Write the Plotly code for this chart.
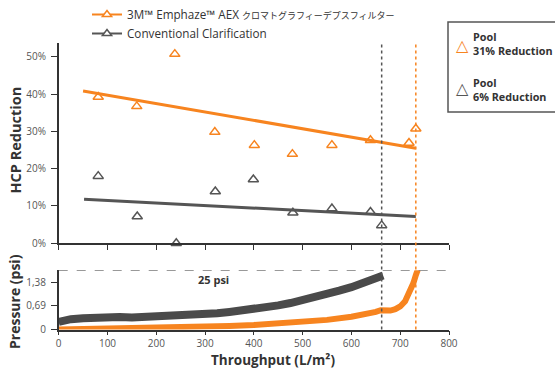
import plotly.graph_objects as go

# ---------------- data ----------------
# HCP reduction points (throughput L/m², fraction)
emph_x = [81, 160, 238, 320, 401, 479, 560, 639, 718, 732]
emph_y = [0.392, 0.367, 0.507, 0.298, 0.263, 0.239, 0.263, 0.276, 0.269, 0.307]
conv_x = [81, 161, 241, 321, 399, 480, 560, 639, 662]
conv_y = [0.180, 0.072, 0.000, 0.139, 0.171, 0.082, 0.093, 0.084, 0.048]

# trend lines (end points)
emph_trend_x = [50, 732]
emph_trend_y = [0.408, 0.255]
conv_trend_x = [52, 732]
conv_trend_y = [0.118, 0.072]

# pressure curves (bar, labelled in psi)
conv_p_x = [0, 10, 25, 50, 75, 100, 125, 150, 175, 200, 225, 250, 275, 300, 325, 350,
            375, 400, 425, 450, 475, 500, 525, 550, 575, 600, 625, 650, 665]
conv_p_y = [0.22, 0.27, 0.30, 0.33, 0.35, 0.36, 0.36, 0.35, 0.36, 0.37, 0.38, 0.40, 0.42,
            0.44, 0.47, 0.51, 0.55, 0.59, 0.64, 0.70, 0.77, 0.85, 0.93, 1.03, 1.13, 1.23,
            1.34, 1.45, 1.57]
emph_p_x = [0, 50, 100, 150, 200, 250, 300, 350, 400, 450, 500, 550, 600, 630, 650, 660,
            670, 680, 690, 700, 710, 720, 727, 732, 736]
emph_p_y = [0.00, 0.01, 0.02, 0.03, 0.04, 0.06, 0.08, 0.10, 0.13, 0.17, 0.21, 0.28, 0.37,
            0.44, 0.51, 0.56, 0.55, 0.55, 0.59, 0.67, 0.82, 1.08, 1.35, 1.58, 1.74]

pressure_limit = 1.7237   # 25 psi in bar
end_conv = 662
end_emph = 732

y2_tickvals = [0, 0.69, 1.38]
y2_ticktext = ["0", "0,69", "1,38"]
x_tickvals = [0, 100, 200, 300, 400, 500, 600, 700, 800]

legend_names = ["3M™ Emphaze™ AEX <span style='font-size:9px'>クロマトグラフィーデプスフィルター</span>",
                "Conventional Clarification"]

# ---------------- style ----------------
ORANGE = "#F7841F"
GRAY = "#555555"
BAND_GRAY = "#4A4A4A"
TXT = "#333333"
TICK = "#555555"
FONT = "Open Sans, Noto Sans CJK JP, sans-serif"
W, H = 555, 371

fig = go.Figure()

# top: scatter points
fig.add_trace(go.Scatter(x=emph_x, y=emph_y, mode="markers", showlegend=False,
                         marker=dict(symbol="triangle-up-open", size=9, color=ORANGE,
                                     line=dict(width=1.5, color=ORANGE)),
                         cliponaxis=False, xaxis="x", yaxis="y"))
fig.add_trace(go.Scatter(x=conv_x, y=conv_y, mode="markers", showlegend=False,
                         marker=dict(symbol="triangle-up-open", size=9, color=GRAY,
                                     line=dict(width=1.5, color=GRAY)),
                         cliponaxis=False, xaxis="x", yaxis="y"))
fig.add_trace(go.Scatter(x=emph_trend_x, y=emph_trend_y, mode="lines", showlegend=False,
                         line=dict(color=ORANGE, width=3), xaxis="x", yaxis="y"))
fig.add_trace(go.Scatter(x=conv_trend_x, y=conv_trend_y, mode="lines", showlegend=False,
                         line=dict(color=GRAY, width=3), xaxis="x", yaxis="y"))

# legend entries
fig.add_trace(go.Scatter(x=[None], y=[None], mode="lines+markers", name=legend_names[0],
                         line=dict(color=ORANGE, width=2),
                         marker=dict(symbol="triangle-up", size=8, color="white",
                                     line=dict(width=1.5, color=ORANGE)),
                         xaxis="x", yaxis="y"))
fig.add_trace(go.Scatter(x=[None], y=[None], mode="lines+markers", name=legend_names[1],
                         line=dict(color=GRAY, width=2),
                         marker=dict(symbol="triangle-up", size=8, color="white",
                                     line=dict(width=1.5, color=GRAY)),
                         xaxis="x", yaxis="y"))

# bottom: pressure curves
fig.add_trace(go.Scatter(x=conv_p_x, y=conv_p_y, mode="lines", showlegend=False,
                         line=dict(color=BAND_GRAY, width=8), cliponaxis=False,
                         xaxis="x2", yaxis="y2"))
fig.add_trace(go.Scatter(x=emph_p_x, y=emph_p_y, mode="lines", showlegend=False,
                         line=dict(color=ORANGE, width=6), cliponaxis=False,
                         xaxis="x2", yaxis="y2"))

# ---------------- layout ----------------
xl, xr = 58.7 / W, 449 / W
top_dom = [1 - 243.3 / H, 1 - 42.7 / H]
bot_dom = [1 - 329.5 / H, 1 - 270.2 / H]

axis_common = dict(showgrid=False, zeroline=False, showline=True, linecolor=TXT,
                   linewidth=1.5, ticks="outside", tickcolor=TXT, tickwidth=1.2,
                   automargin=False,
                   tickfont=dict(family=FONT, size=10, color=TICK))

fig.update_layout(
    width=W, height=H, autosize=False,
    margin=dict(l=0, r=0, t=0, b=0, pad=0, autoexpand=False),
    paper_bgcolor="white", plot_bgcolor="white",
    font=dict(family=FONT, color=TXT),
    xaxis=dict(domain=[xl, xr], range=[0, 800], tickvals=x_tickvals,
               showticklabels=False, ticklen=5, anchor="y", **axis_common),
    yaxis=dict(domain=top_dom, range=[0, 0.5376], dtick=0.1, tickformat=".0%",
               ticklen=6, ticklabelstandoff=3, anchor="x", **axis_common),
    xaxis2=dict(domain=[xl, xr], range=[0, 800], tickvals=x_tickvals, ticklen=4,
                anchor="y2", **axis_common),
    yaxis2=dict(domain=bot_dom, range=[0, pressure_limit], tickvals=y2_tickvals,
                ticktext=y2_ticktext, ticklen=6, ticklabelstandoff=3, anchor="x2",
                **axis_common),
    legend=dict(x=87 / W, y=1, xanchor="left", yanchor="top",
                font=dict(family=FONT, size=11.7, color=TXT), bgcolor="rgba(0,0,0,0)",
                tracegroupgap=0),
)

# vertical dotted end-of-run lines across both panels
for xv, col in [(end_conv, GRAY), (end_emph, ORANGE)]:
    fig.add_shape(type="line", xref="x", yref="paper", x0=xv, x1=xv,
                  y0=bot_dom[0], y1=top_dom[1], line=dict(color=col, width=1.5, dash="dot"))

# 25 psi dashed line
fig.add_shape(type="line", xref="x2", yref="y2", x0=0, x1=800, y0=pressure_limit,
              y1=pressure_limit, line=dict(color="#777777", width=1.5, dash="dash"))

# info box
fig.add_shape(type="rect", xref="paper", yref="paper", x0=448 / W, x1=1.02,
              y0=1 - 112 / H, y1=1 - 22 / H, line=dict(color=GRAY, width=1.5))

ann = []
ann.append(dict(text="<b>25 psi</b>", x=318, y=1.46, xref="x2", yref="y2", showarrow=False,
                font=dict(family=FONT, size=11, color=TXT), xanchor="center"))
for txt, yc in [("<b>Pool<br>31% Reduction</b>", 43),
                ("<b>Pool<br>6% Reduction</b>", 89.5)]:
    ann.append(dict(text=txt, x=471 / W, y=1 - yc / H, xref="paper", yref="paper",
                    showarrow=False, align="left", xanchor="left", yanchor="middle",
                    font=dict(family=FONT, size=10.8, color=TXT)))
for yc, col in [(45.7, ORANGE), (88, GRAY)]:
    ann.append(dict(text="△", x=462 / W, y=1 - yc / H, xref="paper", yref="paper",
                    showarrow=False, xanchor="center", yanchor="middle",
                    font=dict(family="DejaVu Sans", size=16, color=col)))
ann.append(dict(text="<b>HCP Reduction</b>", x=14.5 / W, y=1 - 140 / H, xref="paper",
                yref="paper", showarrow=False, textangle=-90, xanchor="center",
                yanchor="middle", font=dict(family=FONT, size=14.5, color=TXT)))
ann.append(dict(text="<b>Pressure (psi)</b>", x=14.5 / W, y=1 - 301.5 / H, xref="paper",
                yref="paper", showarrow=False, textangle=-90, xanchor="center",
                yanchor="middle", font=dict(family=FONT, size=14, color=TXT)))
ann.append(dict(text="<b>Throughput (L/m²)</b>", x=272.5 / W, y=1 - 360 / H, xref="paper",
                yref="paper", showarrow=False, xanchor="center", yanchor="middle",
                font=dict(family=FONT, size=13.5, color=TXT)))
fig.update_layout(annotations=ann)

fig.write_html("out.html")
